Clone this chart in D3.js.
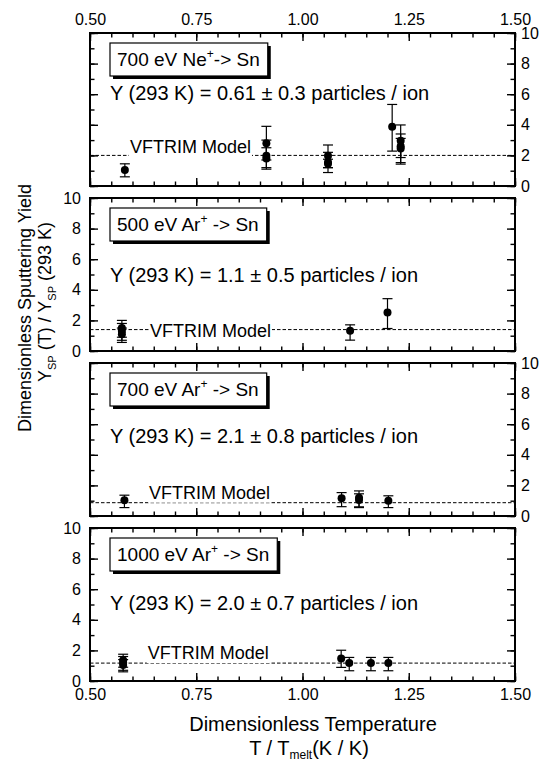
<!DOCTYPE html>
<html>
<head>
<meta charset="utf-8">
<script src="https://cdn.jsdelivr.net/npm/d3@7"></script>
<style>
body{margin:0;background:#fff;}
text{font-family:"Liberation Sans",Arial,Helvetica,sans-serif;fill:#000;}
</style>
</head>
<body>
<svg id="chart" width="545" height="763"></svg>
<script>
// data: [T/Tmelt, Y, upper error, lower error]
var ne700 = [
  [0.582,1.05,1.45,0.60],
  [0.915,2.80,3.90,1.70],
  [0.915,1.97,3.00,1.10],
  [0.915,1.80,2.50,1.20],
  [1.060,1.97,2.68,1.20],
  [1.060,1.55,2.20,0.88],
  [1.060,1.45,1.75,1.20],
  [1.211,3.88,5.33,2.28],
  [1.231,2.95,3.99,1.86],
  [1.231,2.60,3.40,1.53],
  [1.231,2.45,3.11,1.43]
];
var ar500 = [
  [0.575,1.50,2.00,0.90],
  [0.575,1.30,1.80,0.70],
  [0.575,1.10,1.50,0.56],
  [1.112,1.32,1.71,0.71],
  [1.200,2.51,3.42,1.47]
];
var ar700 = [
  [0.581,1.03,1.36,0.55],
  [1.092,1.16,1.53,0.61],
  [1.133,1.20,1.64,0.60],
  [1.133,1.05,1.45,0.55],
  [1.202,0.99,1.32,0.55]
];
var ar1000 = [
  [0.578,1.35,1.75,0.90],
  [0.578,1.20,1.60,0.70],
  [0.578,1.05,1.40,0.60],
  [1.091,1.47,2.01,0.89],
  [1.110,1.17,1.54,0.67],
  [1.161,1.17,1.54,0.67],
  [1.202,1.17,1.54,0.67]
];
var series = [ne700, ar500, ar700, ar1000];
var energies = ["700","500","700","1000"];
var ions = ["Ne","Ar","Ar","Ar"];
var yield293 = ["0.61 ± 0.3","1.1 ± 0.5","2.1 ± 0.8","2.0 ± 0.7"];
var modelY = [2.0,1.4,0.87,1.17];
var tTicks = [0.50,0.75,1.00,1.25,1.50];
var yTicks = [0,2,4,6,8,10];

// layout
var svg = d3.select("#chart");
var left = 90, right = 515, ph = 153;
var panelTop = [33,198,363,528];
var labelSide = ["right","left","right","left"];
var yieldDy = [67,84,80,82];
var vfX = [0.594,0.641,0.639,0.636];
var vfDy = [-2,7,-4,-4];

var x = d3.scaleLinear().domain([0.5,1.5]).range([left,right]);
var tMinor = d3.range(0,21).map(function(i){return 0.5+i*0.05;});
var yMinor = d3.range(0,11);

var drawPanel = function(i){
  var top = panelTop[i];
  var y = d3.scaleLinear().domain([0,10]).range([top+ph, top]);
  var g = svg.append("g");

  // ticks, all inward on four sides
  var axes = [
    [d3.axisBottom(x).tickValues(tMinor), "translate(0,"+(top+ph)+")"],
    [d3.axisTop(x).tickValues(tMinor), "translate(0,"+top+")"],
    [d3.axisLeft(y).tickValues(yMinor), "translate("+left+",0)"],
    [d3.axisRight(y).tickValues(yMinor), "translate("+right+",0)"]
  ];
  axes.forEach(function(a){
    var ax = g.append("g").attr("transform",a[1])
      .call(a[0].tickSize(-4.5).tickFormat(""));
    ax.select(".domain").remove();
    ax.selectAll("line").attr("stroke","#000").attr("stroke-width",1.4);
  });
  var major = [
    [d3.axisBottom(x).tickValues(tTicks), "translate(0,"+(top+ph)+")", i==3],
    [d3.axisTop(x).tickValues(tTicks), "translate(0,"+top+")", i==0],
    [d3.axisLeft(y).tickValues(yTicks), "translate("+left+",0)", labelSide[i]=="left"],
    [d3.axisRight(y).tickValues(yTicks), "translate("+right+",0)", labelSide[i]=="right"]
  ];
  major.forEach(function(a,k){
    var isX = k<2;
    var ax = g.append("g").attr("transform",a[1])
      .call(a[0].tickSize(-8).tickPadding(k==2?9:(k==3?6:8))
        .tickFormat(isX ? d3.format(".2f") : d3.format("d")));
    ax.select(".domain").remove();
    ax.selectAll("line").attr("stroke","#000").attr("stroke-width",1.4);
    ax.selectAll("text").attr("font-size",16).attr("font-family",null).attr("fill","#000");
    if(!a[2]) ax.selectAll("text").remove();
  });

  // frame
  g.append("rect").attr("x",left).attr("y",top).attr("width",right-left).attr("height",ph)
    .attr("fill","none").attr("stroke","#000").attr("stroke-width",2);

  // VFTRIM model line
  g.append("line").attr("x1",left).attr("x2",right)
    .attr("y1",y(modelY[i])).attr("y2",y(modelY[i]))
    .attr("stroke","#000").attr("stroke-width",1).attr("stroke-dasharray","3.5,2");
  var bg = g.append("rect").attr("fill","#fff");
  var vf = g.append("text").attr("x",x(vfX[i])).attr("y",y(modelY[i])+vfDy[i])
    .attr("font-size",18).text("VFTRIM Model");
  var bb = vf.node().getBBox();
  bg.attr("x",bb.x-1).attr("y",bb.y).attr("width",bb.width+2).attr("height",bb.height);

  // error bars and points
  var pts = g.append("g").selectAll("g").data(series[i]).enter().append("g");
  pts.append("line").attr("x1",function(d){return x(d[0]);}).attr("x2",function(d){return x(d[0]);})
    .attr("y1",function(d){return y(d[2]);}).attr("y2",function(d){return y(d[3]);})
    .attr("stroke","#000").attr("stroke-width",1.2);
  [2,3].forEach(function(k){
    pts.append("line").attr("x1",function(d){return x(d[0])-5;}).attr("x2",function(d){return x(d[0])+5;})
      .attr("y1",function(d){return y(d[k]);}).attr("y2",function(d){return y(d[k]);})
      .attr("stroke","#000").attr("stroke-width",1.2);
  });
  pts.append("circle").attr("cx",function(d){return x(d[0]);}).attr("cy",function(d){return y(d[1]);})
    .attr("r",4).attr("fill","#000");

  // yield text
  g.append("text").attr("x",110).attr("y",top+yieldDy[i]).attr("font-size",20)
    .text("Y (293 K) = "+yield293[i]+" particles / ion");

  // label box with shadow
  var shadow = g.append("rect").attr("fill","#000");
  var box = g.append("rect").attr("fill","#fff").attr("stroke","#000").attr("stroke-width",1.2);
  var lab = g.append("text").attr("x",117).attr("y",top+33).attr("font-size",19);
  lab.append("tspan").text(energies[i]+" eV "+ions[i]);
  lab.append("tspan").attr("font-size",12).attr("dy",-8).text("+");
  lab.append("tspan").attr("dy",8).text(i==0 ? "-> Sn" : " -> Sn");
  var lb = lab.node().getBBox();
  box.attr("x",110).attr("y",top+10).attr("width",lb.width+15).attr("height",33);
  shadow.attr("x",113).attr("y",top+13).attr("width",lb.width+15).attr("height",33);
};

for (var i=0;i<4;i++) drawPanel(i);

// axis titles
var xt = svg.append("text").attr("x",313).attr("y",731).attr("text-anchor","middle").attr("font-size",20)
  .text("Dimensionless Temperature");
var xt2 = svg.append("text").attr("x",309).attr("y",755).attr("text-anchor","middle").attr("font-size",20);
xt2.append("tspan").text("T / T");
xt2.append("tspan").attr("font-size",12).attr("dy",4).text("melt");
xt2.append("tspan").attr("dy",-4).text("(K / K)");

var yt = svg.append("text").attr("transform","translate(31,308) rotate(-90)")
  .attr("text-anchor","middle").attr("font-size",18).text("Dimensionless Sputtering Yield");
var yt2 = svg.append("text").attr("transform","translate(51,302) rotate(-90)")
  .attr("text-anchor","middle").attr("font-size",18);
yt2.append("tspan").text("Y");
yt2.append("tspan").attr("font-size",11).attr("dy",5).text("SP");
yt2.append("tspan").attr("dy",-5).text(" (T) / Y");
yt2.append("tspan").attr("font-size",11).attr("dy",5).text("SP");
yt2.append("tspan").attr("dy",-5).text(" (293 K)");
</script>
</body>
</html>
